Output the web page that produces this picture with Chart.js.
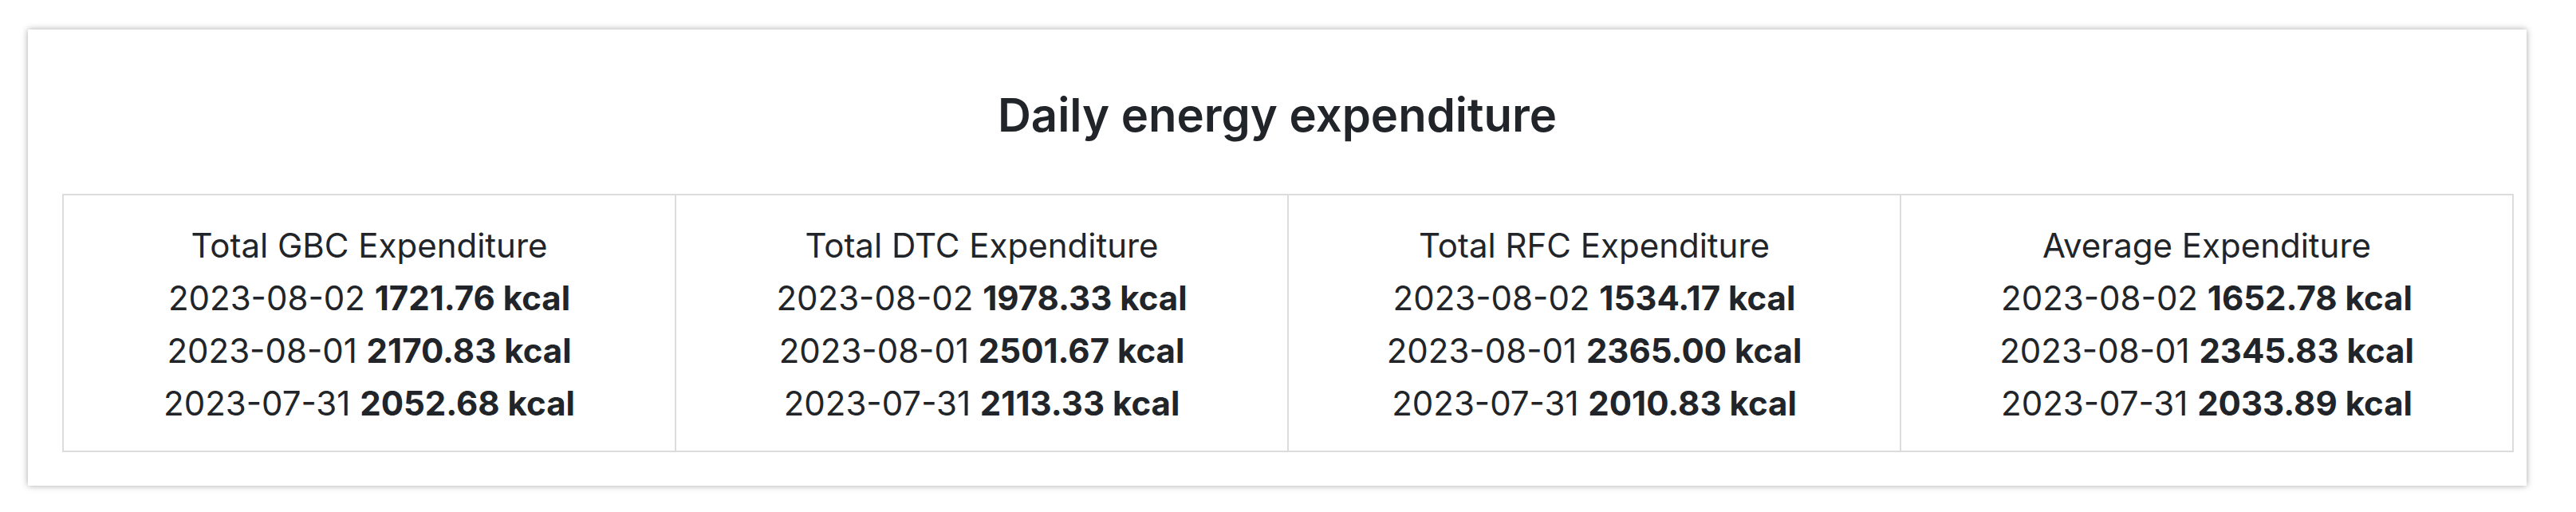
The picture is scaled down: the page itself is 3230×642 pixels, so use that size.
<!DOCTYPE html>
<html><head><meta charset="utf-8">
<script src="https://cdn.jsdelivr.net/npm/chart.js@4/dist/chart.umd.min.js"></script>
<style>
body{margin:0;background:#fff;font-family:Inter,"Noto Sans",sans-serif;color:#212529;}
.card{position:absolute;left:35px;top:37px;width:3133px;height:572px;background:#fff;box-shadow:0 0 8px rgba(0,0,0,0.35);}
#titleWrap{position:absolute;left:0;top:40px;width:3133px;height:120px;}
table{position:absolute;left:43px;top:206px;width:3074px;height:324px;border-collapse:collapse;table-layout:fixed;}
td{border:2px solid #dcdcdc;text-align:center;vertical-align:middle;font-size:42px;line-height:66px;padding-top:4px;}
b{font-weight:700;}
</style></head><body>
<div class="card">
<div id="titleWrap"><canvas id="t"></canvas></div>
<table><tr id="row"></tr></table>
</div>
<script>
const title = 'Daily energy expenditure';
const cards = ['Total GBC Expenditure', 'Total DTC Expenditure', 'Total RFC Expenditure', 'Average Expenditure'];
const dates = ['2023-08-02', '2023-08-01', '2023-07-31'];
const gbc = [1721.76, 2170.83, 2052.68];
const dtc = [1978.33, 2501.67, 2113.33];
const rfc = [1534.17, 2365.00, 2010.83];
const avg = [1652.78, 2345.83, 2033.89];
const series = [gbc, dtc, rfc, avg];

const row = document.getElementById('row');
cards.forEach((c, i) => {
  const td = document.createElement('td');
  let html = c;
  dates.forEach((d, j) => {
    html += '<br>' + d + ' <b>' + series[i][j].toFixed(2) + ' kcal</b>';
  });
  td.innerHTML = html;
  row.appendChild(td);
});

new Chart(document.getElementById('t'), {
  type: 'bar',
  data: { labels: [], datasets: [] },
  options: {
    responsive: true, maintainAspectRatio: false, animation: false,
    scales: { x: { display: false }, y: { display: false } },
    plugins: {
      legend: { display: false },
      tooltip: { enabled: false },
      title: { display: true, text: title, color: '#212529',
        font: { family: 'Inter', size: 58, weight: '600' }, padding: { top: 36, bottom: 0 } }
    }
  }
});
</script>
</body></html>
